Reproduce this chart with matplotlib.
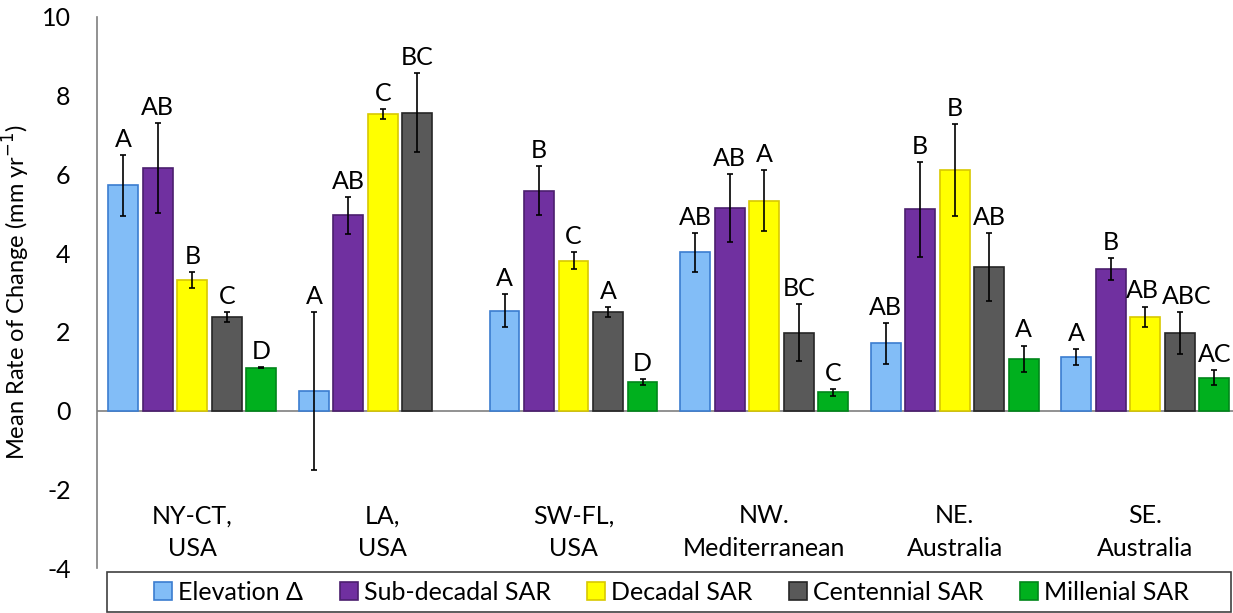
import numpy as np
import matplotlib
matplotlib.use("Agg")
import matplotlib.pyplot as plt
from matplotlib.patches import Patch, Rectangle

plt.rcParams['font.family'] = ['Lato', 'DejaVu Sans']
plt.rcParams['axes.unicode_minus'] = False

regions = ['NY-CT,\nUSA', 'LA,\nUSA', 'SW-FL,\nUSA', 'NW.\nMediterranean', 'NE.\nAustralia', 'SE.\nAustralia']
series = ['Elevation Δ', 'Sub-decadal SAR', 'Decadal SAR', 'Centennial SAR', 'Millenial SAR']

# mean rate of change (mm/yr), one list per series, one value per region
elevation = [5.72, 0.50, 2.54, 4.02, 1.71, 1.37]
sub_decadal = [6.17, 4.96, 5.59, 5.14, 5.11, 3.60]
decadal = [3.32, 7.54, 3.81, 5.33, 6.11, 2.38]
centennial = [2.37, 7.57, 2.50, 1.98, 3.65, 1.97]
millenial = [1.09, np.nan, 0.73, 0.46, 1.32, 0.84]

# standard errors
elevation_err = [0.77, 2.00, 0.42, 0.49, 0.52, 0.20]
sub_decadal_err = [1.14, 0.47, 0.63, 0.86, 1.20, 0.28]
decadal_err = [0.20, 0.13, 0.21, 0.78, 1.16, 0.26]
centennial_err = [0.13, 1.00, 0.12, 0.73, 0.86, 0.54]
millenial_err = [0.02, np.nan, 0.08, 0.08, 0.33, 0.18]

# significance letters
elevation_sig = ['A', 'A', 'A', 'AB', 'AB', 'A']
sub_decadal_sig = ['AB', 'AB', 'B', 'AB', 'B', 'B']
decadal_sig = ['B', 'C', 'C', 'A', 'B', 'AB']
centennial_sig = ['C', 'BC', 'A', 'BC', 'AB', 'ABC']
millenial_sig = ['D', '', 'D', 'C', 'A', 'AC']

values = [elevation, sub_decadal, decadal, centennial, millenial]
errors = [elevation_err, sub_decadal_err, decadal_err, centennial_err, millenial_err]
letters = [elevation_sig, sub_decadal_sig, decadal_sig, centennial_sig, millenial_sig]

faces = ['#82BDF7', '#7030A0', '#FFFF00', '#595959', '#00B01E']
edges = ['#3B7DD0', '#4B1F6E', '#D8C800', '#262626', '#00861A']

fig = plt.figure(figsize=(12.33, 6.13), dpi=100)
ax = fig.add_axes([0.0787, 0.0734, 0.9213, 0.8989])

x = np.arange(len(regions))
step = 0.181
width = 0.157
fs = 18

# small sideways shifts (points) for crowded letters: (series, region) -> dx
nudge = {(2, 5): -2, (3, 5): 5}

for i in range(len(series)):
    xs = x + (i - 2) * step
    ax.bar(xs, values[i], width, color=faces[i], edgecolor=edges[i], linewidth=1.2, zorder=2)
    ax.errorbar(xs, values[i], yerr=errors[i], fmt='none', ecolor='black',
                elinewidth=1.2, capsize=2.5, capthick=1.2, zorder=3)
    for j, (xi, v, e, lab) in enumerate(zip(xs, values[i], errors[i], letters[i])):
        if lab and not np.isnan(v):
            ax.annotate(lab, (xi, v + e), xytext=(nudge.get((i, j), 0), 3),
                        textcoords='offset points', ha='center', va='bottom', fontsize=fs)

ax.axhline(0, color='#7F7F7F', linewidth=1.2, zorder=1)
for xi, name in zip(x, regions):
    ax.text(xi, -2.38, name, ha='center', va='top', fontsize=fs, linespacing=1.5)

ax.set_xlim(-0.5, 5.46)
ax.set_ylim(-4, 10)
ax.set_yticks(np.arange(-4, 11, 2))
ax.set_yticklabels([str(t) for t in range(-4, 11, 2)])
ax.set_xticks([])
ax.tick_params(axis='y', length=0, pad=19, labelsize=fs)
for s in ['top', 'right', 'bottom']:
    ax.spines[s].set_visible(False)
ax.spines['left'].set_color('#7F7F7F')
ax.spines['left'].set_linewidth(1.2)

ax.set_ylabel('Mean Rate of Change (mm yr$^{-1}$)', fontsize=17)
ax.yaxis.set_label_coords(-0.057, 0.5)

# legend entries without frame, box drawn separately
handles = [Patch(facecolor=f, edgecolor=e, linewidth=1.2) for f, e in zip(faces, edges)]
fig.legend(handles, series, ncol=5, loc='center', bbox_to_anchor=(0.5446, 0.034),
           fontsize=fs, frameon=False, handlelength=0.72, handleheight=0.72,
           handletextpad=0.25, columnspacing=1.45, borderpad=0.2)
fig.add_artist(Rectangle((0.0868, 0.0016), 0.9116, 0.0653, transform=fig.transFigure,
                         facecolor='none', edgecolor='#404040', linewidth=1.2))

fig.savefig('out.png', dpi=100)
